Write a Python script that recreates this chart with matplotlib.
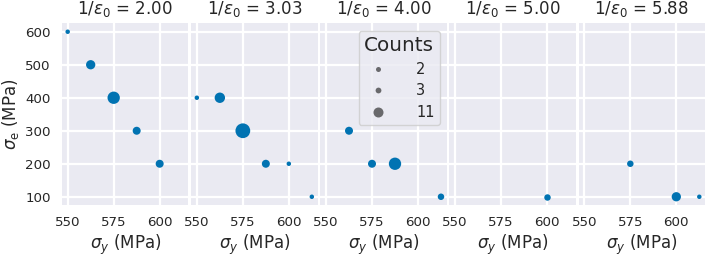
import matplotlib
matplotlib.use("Agg")
import matplotlib.pyplot as plt
import seaborn as sns
import numpy as np
from matplotlib.lines import Line2D

sns.set_style("darkgrid")
plt.rcParams['font.family'] = ['DejaVu Sans']

# Data
panel_titles = ["2.00", "3.03", "4.00", "5.00", "5.88"]
sigma_y = [
    [550, 562.5, 575, 587.5, 600],
    [550, 562.5, 575, 587.5, 600, 612.5],
    [562.5, 575, 587.5, 612.5],
    [600],
    [575, 600, 612.5],
]
sigma_e = [
    [600, 500, 400, 300, 200],
    [400, 400, 300, 200, 200, 100],
    [300, 200, 200, 100],
    [100],
    [200, 100, 100],
]
counts = [
    [2, 5, 8, 4, 4],
    [2, 6, 11, 4, 2, 2],
    [4, 4, 8, 3],
    [3],
    [3, 5, 2],
]
legend_counts = [2, 3, 11]
legend_diam_px = [5.0, 5.8, 10.0]
xticks = [550, 575, 600]
yticks = [100, 200, 300, 400, 500, 600]

color = "#0173B2"
dpi = 100
px2pt = 72.0 / dpi


def size_pt2(c):
    area_px = 20 + 22 * (np.asarray(c) - 2)
    return area_px * px2pt ** 2


fig, axes = plt.subplots(1, 5, figsize=(7.06, 2.57), dpi=dpi, sharex=True, sharey=True)
fig.subplots_adjust(left=0.0878, right=0.9986, top=0.9086, bottom=0.2023, wspace=0.022)

for i, ax in enumerate(axes):
    ax.scatter(sigma_y[i], sigma_e[i], s=size_pt2(counts[i]), color=color, linewidths=0, zorder=3)
    ax.set_title(r"$1/\varepsilon_0$ = " + panel_titles[i], fontsize=12, color=".15", pad=7)
    ax.set_xlabel(r"$\sigma_y$ (MPa)", fontsize=12, color=".15", labelpad=3)
    ax.set_xticks(xticks)
    ax.set_yticks(yticks)
    ax.tick_params(labelsize=9.6, colors=".15", length=0, pad=8)
    ax.grid(True, color="white", linewidth=1.6)
    for sp in ax.spines.values():
        sp.set_visible(False)

axes[0].set_xlim(546.9, 615.6)
axes[0].set_ylim(75, 625)
axes[0].set_ylabel(r"$\sigma_\mathrm{e}$ (MPa)", fontsize=12, color=".15", labelpad=3)

handles = [Line2D([], [], marker='o', linestyle='', markersize=d * px2pt,
                  markerfacecolor=(0.2, 0.2, 0.2, 0.7), markeredgewidth=0)
           for d in legend_diam_px]
leg = axes[2].legend(handles, [str(c) for c in legend_counts], title="Counts",
                     loc="upper right", fontsize=10.5,
                     frameon=True, borderpad=0.35, labelspacing=0.45, handletextpad=1.6,
                     borderaxespad=0, bbox_to_anchor=(0.945, 0.958))
leg.get_title().set_fontsize(14.4)
leg.get_title().set_color(".15")
for t in leg.get_texts():
    t.set_color(".15")
leg.get_frame().set_facecolor("#EAEAF2")
leg.get_frame().set_edgecolor("#cccccc")
leg.get_frame().set_alpha(0.8)

fig.savefig("out.png", dpi=dpi)
